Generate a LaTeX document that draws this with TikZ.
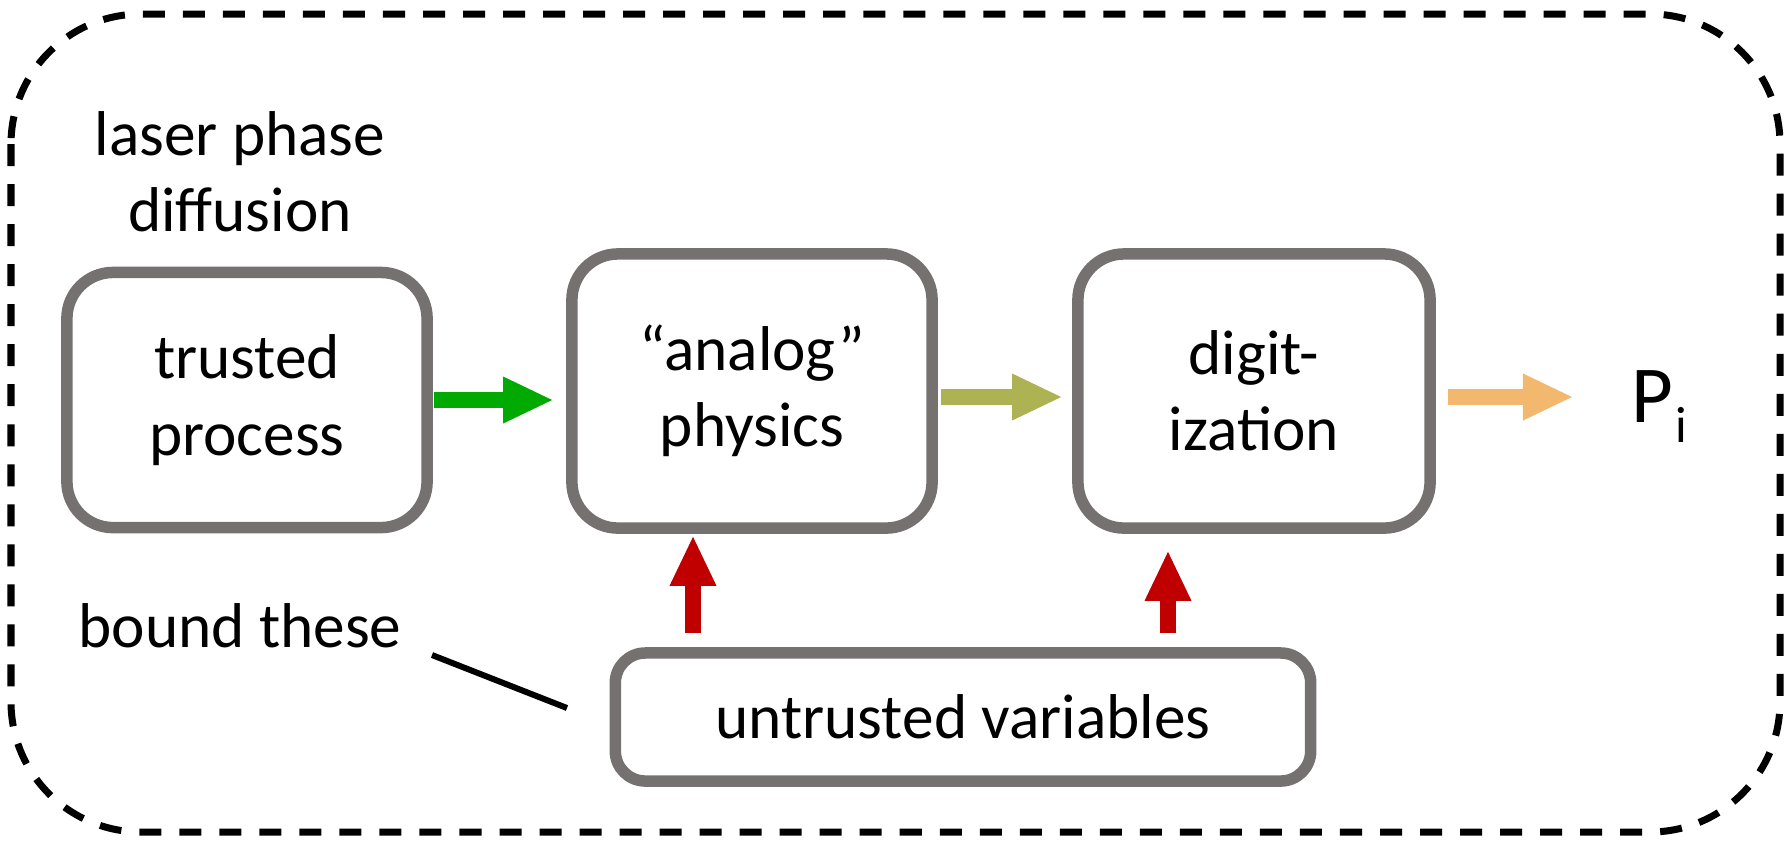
\documentclass[tikz,border=0pt]{standalone}
\usepackage{fontspec}
\setmainfont{Carlito}
\usetikzlibrary{arrows.meta,calc}
\definecolor{boxgray}{RGB}{118,113,113}
\definecolor{agreen}{RGB}{0,170,0}
\definecolor{aolive}{RGB}{173,178,83}
\definecolor{aorange}{RGB}{242,185,110}
\definecolor{ared}{RGB}{192,0,0}
\begin{document}
\begin{tikzpicture}[x=0.01cm,y=-0.01cm, font=\fontsize{18pt}{21.7pt}\selectfont,
  procbox/.style={draw=boxgray, line width=0.115cm, rounded corners=0.46cm, fill=white, align=center, inner sep=0pt},
  blockarrow/.style={line width=0.165cm, -{Triangle[length=0.49cm,width=0.47cm,line width=0pt]}},
  frame/.style={black, line width=0.07cm, dash pattern=on 0.22cm off 0.18cm, rounded corners=1.3cm},
  pointer/.style={black, line width=0.06cm}
]
\useasboundingbox (0,0) rectangle (1791,844);
\draw[frame] (11,14) rectangle (1780,832);

\node[procbox, minimum width=3.6cm, minimum height=2.55cm] (b1) at (247,400) {trusted\\process};
\node[procbox, minimum width=3.6cm, minimum height=2.74cm] (b2) at (752,391) {“analog”\\physics};
\node[procbox, minimum width=3.52cm, minimum height=2.74cm] (b3) at (1254,391) {digit-\\ization};
\node[procbox, rounded corners=0.3cm, minimum width=6.95cm, minimum height=1.28cm] (b4) at (963,717) {untrusted variables};
\node[align=center] (lpd) at (240,172) {laser phase\\diffusion};
\node (bt) at (240,626) {bound these};
\node[anchor=base west, inner sep=0pt] (p) at (1631,422) {\fontsize{23pt}{28pt}\selectfont P\hspace{0.5pt}\raisebox{-5.7pt}{\fontsize{14.5pt}{17pt}\selectfont i}};

\draw[blockarrow, agreen, shorten <=0.01cm, shorten >=0.14cm] (b1.east) -- (b1.east -| b2.west);
\draw[blockarrow, aolive, shorten <=0.03cm, shorten >=0.11cm] ($(b2.east)+(0,6)$) -- ($(b3.west)+(0,6)$);
\coordinate (oend) at (1572,397);
\draw[blockarrow, aorange, shorten <=0.12cm] ($(b3.east)+(0,6)$) -- (oend);
\draw[blockarrow, ared, shorten <=0.14cm, shorten >=0.03cm] ($(b4.north)+(-270,0)$) -- ($(b2.south)+(-59,0)$);
\draw[blockarrow, ared, shorten <=0.14cm, shorten >=0.18cm] ($(b4.north)+(205,0)$) -- ($(b3.south)+(-86,0)$);

\coordinate (l1) at (432,655);
\coordinate (l2) at (567,708);
\draw[pointer] (l1) -- (l2);
\end{tikzpicture}
\end{document}
